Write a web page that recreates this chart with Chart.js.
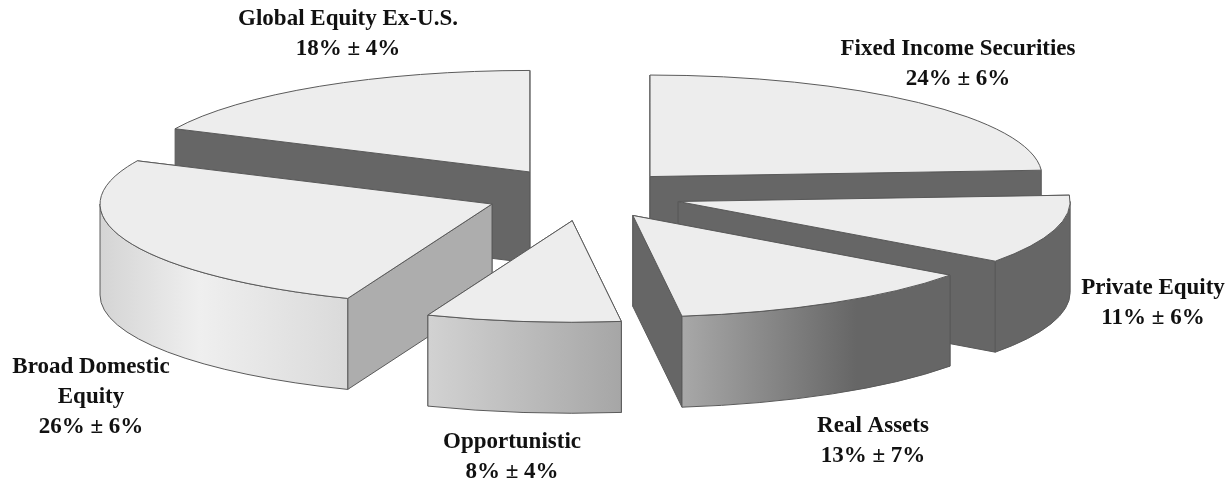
<!DOCTYPE html>
<html>
<head>
<meta charset="utf-8">
<title>Target allocation</title>
<style>
  html, body { margin: 0; padding: 0; background: #fff; }
  #wrap { width: 1231px; height: 485px; position: relative; }
</style>
<script src="https://cdn.jsdelivr.net/npm/chart.js@4/dist/chart.umd.js"></script>
</head>
<body>
<div id="wrap"><canvas id="chart"></canvas></div>
<script>
// Data, clockwise from 12 o'clock
const categories = ['Fixed Income Securities', 'Private Equity', 'Real Assets', 'Opportunistic', 'Broad Domestic Equity', 'Global Equity Ex-U.S.'];
const targets = [24, 11, 13, 8, 26, 18];
const ranges = ['24% ± 6%', '11% ± 6%', '13% ± 7%', '8% ± 4%', '26% ± 6%', '18% ± 4%'];

// Look of the 3D pie
const RADIUS = 392;
const SQUASH = 0.259;
const DEPTH = 91;
const CENTER = { x: 585, y: 194.5 };
const TOP_COLOR = '#ededed';
const EDGE_COLOR = '#5a5a5a';
const explode = [95, 97, 94, 102, 100, 103];
const drawOrder = [5, 0, 1, 4, 2, 3]; // back to front
const DARK = '#666666';
const cutWallColors = [DARK, DARK, DARK, '#a8a8a8', '#adadad', DARK];
const rimStops = [
  [[0, DARK], [1, DARK]],
  [[0, DARK], [1, DARK]],
  [[0, '#a8a8a8'], [0.65, DARK], [1, DARK]],
  [[0, '#d2d2d2'], [1, '#a6a6a6']],
  [[0, '#d4d4d4'], [0.4, '#efefef'], [1, '#dadada']],
  [[0, DARK], [1, DARK]],
];

// Label placement: centre x, first baseline, wrapped lines
const labelLayout = [
  { x: 958, y: 55, lines: ['Fixed Income Securities'] },
  { x: 1153, y: 294, lines: ['Private Equity'] },
  { x: 873, y: 432, lines: ['Real Assets'] },
  { x: 512, y: 448, lines: ['Opportunistic'] },
  { x: 91, y: 373, lines: ['Broad Domestic', 'Equity'] },
  { x: 348, y: 25, lines: ['Global Equity Ex-U.S.'] },
];

class Pie3DController extends Chart.DoughnutController {
  draw() {
    const { ctx } = this.chart;
    const arcs = this.getMeta().data;
    drawOrder.forEach((i) => this.drawSlice(ctx, arcs[i], i));
  }

  drawSlice(ctx, arc, i) {
    const { startAngle, endAngle, outerRadius, x, y } = arc.getProps(['startAngle', 'endAngle', 'outerRadius', 'x', 'y']);
    const mid = (startAngle + endAngle) / 2;
    const ax = CENTER.x + Math.cos(mid) * explode[i];
    const ay = CENTER.y + Math.sin(mid) * explode[i] * SQUASH;
    const rimPoint = (a) => [ax + Math.cos(a) * outerRadius, ay + Math.sin(a) * outerRadius * SQUASH];

    ctx.save();
    ctx.lineWidth = 1;
    ctx.lineJoin = 'round';
    ctx.strokeStyle = EDGE_COLOR;

    // Cut walls, the one further back first
    const walls = [startAngle, endAngle].sort((a, b) => rimPoint(a)[1] - rimPoint(b)[1]);
    walls.forEach((a) => {
      const [px, py] = rimPoint(a);
      ctx.beginPath();
      ctx.moveTo(ax, ay);
      ctx.lineTo(px, py);
      ctx.lineTo(px, py + DEPTH);
      ctx.lineTo(ax, ay + DEPTH);
      ctx.closePath();
      ctx.fillStyle = cutWallColors[i];
      ctx.fill();
      ctx.stroke();
    });

    // Outer rim, only the part that faces the viewer (angles 0..PI on the canvas)
    const from = Math.max(startAngle, 0);
    const to = Math.min(endAngle, Math.PI);
    if (to > from) {
      const [x0] = rimPoint(from);
      const [x1] = rimPoint(to);
      const grad = ctx.createLinearGradient(Math.min(x0, x1), 0, Math.max(x0, x1), 0);
      rimStops[i].forEach(([stop, color]) => grad.addColorStop(stop, color));
      ctx.beginPath();
      ctx.ellipse(ax, ay, outerRadius, outerRadius * SQUASH, 0, from, to);
      ctx.ellipse(ax, ay + DEPTH, outerRadius, outerRadius * SQUASH, 0, to, from, true);
      ctx.closePath();
      ctx.fillStyle = grad;
      ctx.fill();
      ctx.stroke();
    }

    // Top face: the arc element itself, flattened onto the ellipse
    ctx.save();
    ctx.translate(ax, ay);
    ctx.scale(1, SQUASH);
    ctx.translate(-x, -y);
    arc.draw(ctx);
    ctx.restore();

    // Outline is stroked unscaled so it stays one pixel all round
    ctx.beginPath();
    ctx.moveTo(ax, ay);
    ctx.ellipse(ax, ay, outerRadius, outerRadius * SQUASH, 0, startAngle, endAngle);
    ctx.closePath();
    ctx.stroke();
    ctx.restore();
  }
}
Pie3DController.id = 'pie3d';
Chart.register(Pie3DController);

const sliceLabels = {
  id: 'sliceLabels',
  afterDraw(chart) {
    const { ctx } = chart;
    ctx.save();
    ctx.font = 'bold 23px "Liberation Serif"';
    ctx.fillStyle = '#111';
    ctx.textAlign = 'center';
    ctx.textBaseline = 'alphabetic';
    labelLayout.forEach((label, i) => {
      [...label.lines, ranges[i]].forEach((line, n) => {
        ctx.fillText(line, label.x, label.y + n * 30);
      });
    });
    ctx.restore();
  },
};

const chart = new Chart(document.getElementById('chart'), {
  type: 'pie3d',
  data: {
    labels: categories,
    datasets: [{
      data: targets,
      backgroundColor: TOP_COLOR,
      borderWidth: 0,
      clip: false,
    }],
  },
  options: {
    animation: false,
    responsive: true,
    maintainAspectRatio: false,
    cutout: 0,
    radius: RADIUS,
    plugins: {
      legend: { display: false },
      tooltip: { enabled: false },
    },
  },
  plugins: [sliceLabels],
});
</script>
</body>
</html>
